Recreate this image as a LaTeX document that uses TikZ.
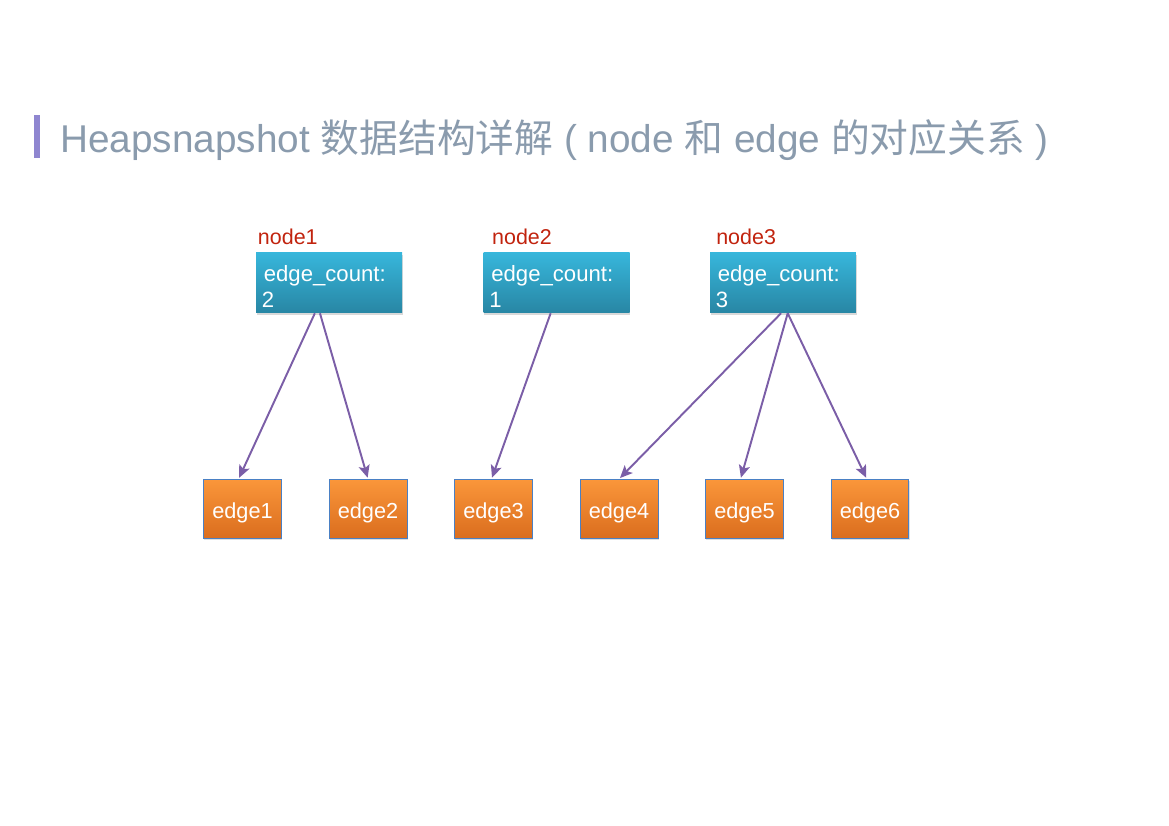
\documentclass[tikz,border=0pt]{standalone}
\usepackage{fontspec}
\setmainfont{Liberation Sans}
\newfontfamily\cjk{Noto Sans CJK SC}
\usepackage{xcolor}
\usepackage{tikz}
\usetikzlibrary{arrows.meta, positioning, shadows}
\definecolor{titulogris}{HTML}{8A9BAD}
\definecolor{barramorada}{HTML}{8F86D0}
\definecolor{rojonodo}{HTML}{C1230E}
\definecolor{azularriba}{HTML}{37B6DB}
\definecolor{azulabajo}{HTML}{2886A4}
\definecolor{naranjaarriba}{HTML}{FA963A}
\definecolor{naranjaabajo}{HTML}{DA6D1E}
\definecolor{bordeazul}{HTML}{4A80C4}
\definecolor{flecha}{HTML}{7B5EA7}

\begin{document}
\begin{tikzpicture}[
    nodebox/.style={rectangle, top color=azularriba, bottom color=azulabajo, text=white,
                    minimum width=3.708cm, minimum height=1.524cm, text width=3.55cm,
                    align=left, inner sep=0pt, font=\fontsize{16}{19}\selectfont,
                    drop shadow={opacity=0.3, shadow xshift=0.4pt, shadow yshift=-1.2pt}},
    edgebox/.style={rectangle, draw=bordeazul, line width=0.7pt, top color=naranjaarriba,
                    bottom color=naranjaabajo, text=white, minimum width=1.98cm,
                    minimum height=1.5cm, inner sep=0pt, font=\fontsize{15.7}{19}\selectfont,
                    text height=14pt, text depth=0pt,
                    drop shadow={opacity=0.25, shadow xshift=0.4pt, shadow yshift=-1.2pt}},
    tag/.style={text=rojonodo, inner sep=0pt, font=\fontsize{15.5}{18.7}\selectfont},
    arrow/.style={-{Stealth[length=9pt, width=8pt, inset=2pt]}, line width=1.4pt, flecha,
                  shorten >=1pt}
]
\useasboundingbox (0,0) rectangle (29.693,-20.98);

% title
\node (bar) [fill=barramorada, minimum width=0.152cm, minimum height=1.09cm, inner sep=0pt,
             anchor=north west] at (0.864,-2.921) {};
\node (title) [anchor=base west, inner sep=0pt, text=titulogris,
               font=\fontsize{28}{34}\selectfont] at (1.524,-3.861)
    {Heapsnapshot {\cjk 数据结构详解} ( node {\cjk 和} edge {\cjk 的对应关系} )};

% nodes
\node (n1) [nodebox] at (8.357,-7.188) {\rule{0pt}{16.5pt}\hspace{0.12cm}edge\_count:\\\hspace{0.07cm}2};
\node (n2) [nodebox, right=2.057cm of n1] {\rule{0pt}{16.5pt}\hspace{0.12cm}edge\_count:\\\hspace{0.07cm}1};
\node (n3) [nodebox, right=2.03cm of n2] {\rule{0pt}{16.5pt}\hspace{0.12cm}edge\_count:\\\hspace{0.07cm}3};
\node (l1) [tag, above right=0.2cm and 0.05cm of n1.north west] {node1};
\node (l2) [tag, above right=0.2cm and 0.22cm of n2.north west] {node2};
\node (l3) [tag, above right=0.2cm and 0.16cm of n3.north west] {node3};

% edges
\node (e1) [edgebox] at (6.16,-12.93) {edge1};
\node (e2) [edgebox, right=1.183cm of e1] {edge2};
\node (e3) [edgebox, right=1.183cm of e2] {edge3};
\node (e4) [edgebox, right=1.183cm of e3] {edge4};
\node (e5) [edgebox, right=1.183cm of e4] {edge5};
\node (e6) [edgebox, right=1.183cm of e5] {edge6};

\draw [arrow] ([xshift=-0.36cm]n1.south) -- ([xshift=-0.1cm]e1.north);
\draw [arrow] ([xshift=-0.23cm]n1.south) -- (e2.north);
\draw [arrow] ([xshift=-0.15cm]n2.south) -- ([xshift=-0.05cm]e3.north);
\draw [arrow] ([xshift=-0.05cm]n3.south) -- (e4.north);
\draw [arrow] ([xshift=0.12cm]n3.south) -- ([xshift=-0.1cm]e5.north);
\draw [arrow] ([xshift=0.12cm]n3.south) -- ([xshift=-0.08cm]e6.north);
\end{tikzpicture}
\end{document}
